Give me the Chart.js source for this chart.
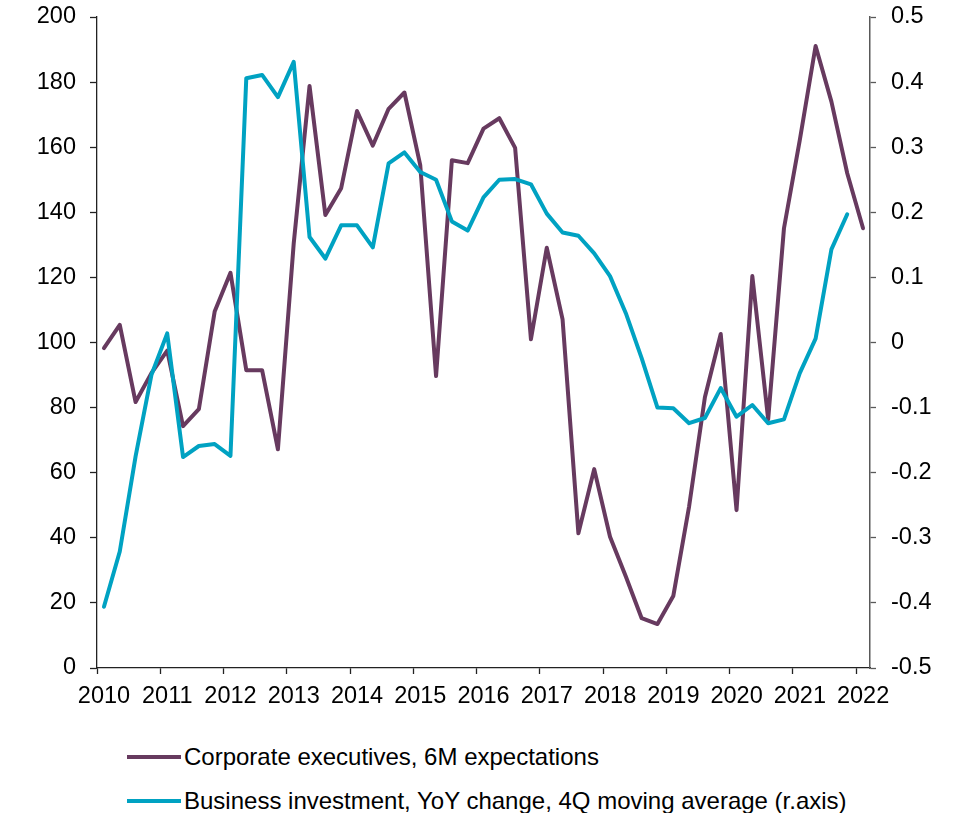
<!DOCTYPE html>
<html>
<head>
<meta charset="utf-8">
<script src="https://cdn.jsdelivr.net/npm/chart.js@4.4.1/dist/chart.umd.min.js"></script>
<style>
	html, body { margin: 0; padding: 0; background: #fff; }
	#wrap { position: relative; width: 958px; height: 813px; font-family: "Liberation Sans", Arial, sans-serif; }
	#box { position: absolute; left: 0; top: 0; width: 958px; height: 720px; }
	.key { position: absolute; left: 127px; height: 30px; display: flex; align-items: center; font-size: 24px; color: #000; white-space: nowrap; }
	.key i { display: inline-block; width: 54px; height: 4px; margin-right: 3px; }
</style>
</head>
<body>
<div id="wrap">
	<div id="box"><canvas id="chart"></canvas></div>
	<div class="key" style="top: 742px;"><i style="background: #673a5f;"></i>Corporate executives, 6M expectations</div>
	<div class="key" style="top: 786px;"><i style="background: #00a2c2;"></i>Business investment, YoY change, 4Q moving average (r.axis)</div>
</div>
<script>
"use strict";

// Series (quarterly, from 2010 Q1)

var executives = [98.3, 105.4, 81.7, 90.6, 97.5, 74.3, 79.5, 109.5, 121.4, 91.5,
	91.5, 67.2, 130.5, 178.8, 139.2, 147.4, 171.1, 160.5, 171.8, 176.8,
	154.5, 89.7, 156, 155.1, 165.7, 168.9, 159.8, 101, 129.1, 107.1,
	41.4, 61.1, 40.3, 28.1, 15.3, 13.5, 22.1, 49.6, 83.2, 102.6,
	48.5, 120.4, 76.4, 135.1, 162.2, 191.1, 174, 152, 135.1];

var investment = [-0.406, -0.321, -0.175, -0.050, 0.014, -0.176, -0.159, -0.156, -0.174, 0.406,
	0.411, 0.377, 0.431, 0.162, 0.129, 0.180, 0.180, 0.146, 0.275, 0.292,
	0.262, 0.250, 0.186, 0.172, 0.223, 0.250, 0.251, 0.243, 0.198, 0.169,
	0.164, 0.137, 0.102, 0.045, -0.024, -0.100, -0.101, -0.124, -0.116, -0.070,
	-0.114, -0.096, -0.124, -0.118, -0.047, 0.006, 0.143, 0.197];

var FIRST_YEAR = 2010,
	LAST_YEAR = 2022;

var LEFT_TICKS = [0, 20, 40, 60, 80, 100, 120, 140, 160, 180, 200],
	RIGHT_TICKS = [-0.5, -0.4, -0.3, -0.2, -0.1, 0, 0.1, 0.2, 0.3, 0.4, 0.5];

var PURPLE = "#673a5f",
	TEAL = "#00a2c2";

// quarter i sits a little past the start of its quarter (early in the 2nd month)
function quarterPos(i) {
	return FIRST_YEAR + 0.11 + i * 0.25;
}

function toPoints(values) {
	return values.map(function (v, i) {
		return { x: quarterPos(i), y: v };
	});
}

function keepOnly(list) {
	return function (scale) {
		scale.ticks = list.map(function (v) { return { value: v }; });
	};
}

// fixed axis width, and no extra room reserved for the end labels
function fixWidth(w) {
	return function (scale) {
		scale.width = w;
		scale.paddingTop = 0;
		scale.paddingBottom = 0;
	};
}

var years = [];
for (var y = FIRST_YEAR; y <= LAST_YEAR; y++) {
	years.push(y);
}

// Chart

var tickFont = { family: "'Liberation Sans', Arial, sans-serif", size: 23.5 };

new Chart(document.getElementById("chart"), {
	type: "line",
	data: {
		datasets: [
			{
				label: "Corporate executives, 6M expectations",
				data: toPoints(executives),
				yAxisID: "y",
				borderColor: PURPLE,
				borderWidth: 4,
				borderJoinStyle: "round",
				borderCapStyle: "round",
				pointRadius: 0,
				tension: 0,
				order: 2
			},
			{
				label: "Business investment, YoY change, 4Q moving average (r.axis)",
				data: toPoints(investment),
				yAxisID: "y2",
				borderColor: TEAL,
				borderWidth: 4,
				borderJoinStyle: "round",
				borderCapStyle: "round",
				pointRadius: 0,
				tension: 0,
				order: 1
			}
		]
	},
	options: {
		responsive: true,
		maintainAspectRatio: false,
		animation: false,
		events: [],
		layout: { padding: { top: 17, left: 0, right: 0, bottom: 0 } },
		plugins: {
			legend: { display: false },
			tooltip: { enabled: false }
		},
		scales: {
			x: {
				type: "linear",
				min: FIRST_YEAR,
				max: LAST_YEAR + 0.22,
				afterBuildTicks: keepOnly(years),
				afterFit: function (scale) { scale.height = 52; },
				border: { color: "#222", width: 1.3 },
				grid: { drawOnChartArea: false, tickLength: 6, tickColor: "#222", tickWidth: 1.3 },
				ticks: {
					color: "#000",
					font: tickFont,
					padding: 8,
					labelOffset: 7,
					maxRotation: 0,
					autoSkip: false,
					callback: function (v) { return String(v); }
				}
			},
			y: {
				position: "left",
				min: 0,
				max: 200,
				afterBuildTicks: keepOnly(LEFT_TICKS),
				afterFit: fixWidth(97),
				border: { color: "#222", width: 1.3 },
				grid: { drawOnChartArea: false, tickLength: 7, tickColor: "#222", tickWidth: 1.3 },
				ticks: { color: "#000", font: tickFont, padding: 14 }
			},
			y2: {
				position: "right",
				min: -0.5,
				max: 0.5,
				afterBuildTicks: keepOnly(RIGHT_TICKS),
				afterFit: fixWidth(88),
				border: { color: "#595959", width: 1.5 },
				grid: { drawOnChartArea: false, tickLength: 6, tickColor: "#595959", tickWidth: 1.3 },
				ticks: {
					color: "#000",
					font: tickFont,
					padding: 15,
					callback: function (v) { return v.toFixed(1).replace("-0.0", "0").replace(/^0\.0$/, "0"); }
				}
			}
		}
	}
});
</script>
</body>
</html>
